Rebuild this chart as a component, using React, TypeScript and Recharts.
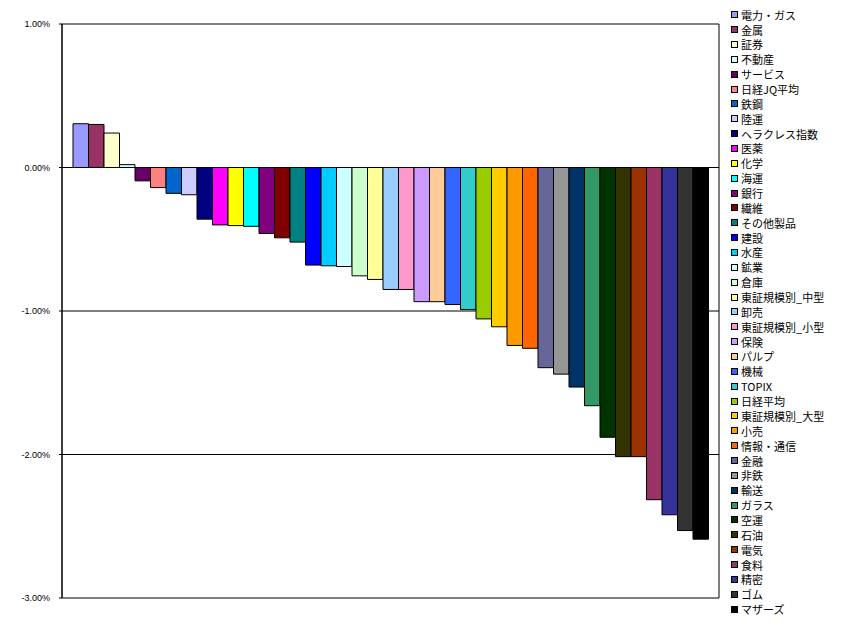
import React from 'react';
import { BarChart, Bar, XAxis, YAxis, CartesianGrid } from 'recharts';

const seriesNames = [
  '電力・ガス', '金属', '証券', '不動産', 'サービス', '日経JQ平均', '鉄鋼', '陸運', 'ヘラクレス指数', '医薬',
  '化学', '海運', '銀行', '繊維', 'その他製品', '建設', '水産', '鉱業', '倉庫', '東証規模別_中型',
  '卸売', '東証規模別_小型', '保険', 'パルプ', '機械', 'TOPIX', '日経平均', '東証規模別_大型', '小売', '情報・通信',
  '金融', '非鉄', '輸送', 'ガラス', '空運', '石油', '電気', '食料', '精密', 'ゴム', 'マザーズ',
];

const seriesValues = [
  0.305, 0.3, 0.24, 0.02, -0.093, -0.14, -0.18, -0.19, -0.36, -0.4,
  -0.405, -0.41, -0.46, -0.49, -0.52, -0.68, -0.685, -0.69, -0.755, -0.78,
  -0.85, -0.85, -0.935, -0.935, -0.955, -0.99, -1.055, -1.11, -1.24, -1.26,
  -1.395, -1.44, -1.53, -1.66, -1.88, -2.015, -2.015, -2.315, -2.42, -2.53, -2.59,
];

const seriesColors = [
  '#9999FF', '#993366', '#FFFFCC', '#CCFFFF', '#660066', '#FF8080', '#0066CC', '#CCCCFF', '#000080', '#FF00FF',
  '#FFFF00', '#00FFFF', '#800080', '#800000', '#008080', '#0000FF', '#00CCFF', '#CCFFFF', '#CCFFCC', '#FFFF99',
  '#99CCFF', '#FF99CC', '#CC99FF', '#FFCC99', '#3366FF', '#33CCCC', '#99CC00', '#FFCC00', '#FF9900', '#FF6600',
  '#666699', '#969696', '#003366', '#339966', '#003300', '#333300', '#993300', '#993366', '#333399', '#333333', '#000000',
];

const yTicks = [1, 0, -1, -2, -3];

const row: Record<string, number | string> = { cat: '' };
seriesNames.forEach((_, i) => {
  row['s' + i] = seriesValues[i];
});
const data = [row];

const fmt = (v: number) => `${v.toFixed(2)}%`;

export default function App() {
  return (
    <div style={{ position: 'absolute', left: 0, top: 0, width: 841, height: 631, background: '#fff' }}>
      <BarChart
        width={841}
        height={631}
        data={data}
        margin={{ top: 24, right: 122, bottom: 33, left: 0 }}
        barGap={0}
        barSize={15.5}
      >
        <CartesianGrid
          stroke="#000"
          strokeWidth={1}
          horizontalValues={yTicks}
          verticalCoordinatesGenerator={({ offset }: any) => [offset.left, offset.left + offset.width]}
        />
        <XAxis dataKey="cat" hide />
        <YAxis
          width={62}
          domain={[-3, 1]}
          ticks={yTicks}
          interval={0}
          tickFormatter={fmt}
          axisLine={{ stroke: '#000' }}
          tickLine={{ stroke: '#000' }}
          tickSize={3}
          tickMargin={9}
          tick={{ fill: '#000', fontSize: 9, fontFamily: 'Liberation Sans, Arial, sans-serif' }}
        />
        {seriesNames.map((n, i) => (
          <Bar
            key={n}
            dataKey={'s' + i}
            name={n}
            fill={seriesColors[i]}
            stroke="#000"
            strokeWidth={1}
            isAnimationActive={false}
          />
        ))}
      </BarChart>
      <div
        style={{
          position: 'absolute',
          left: 731,
          top: 7.3,
          fontFamily: '"Noto Sans CJK JP", sans-serif',
          fontSize: 11,
          color: '#000',
        }}
      >
        {seriesNames.map((n, i) => (
          <div key={n} style={{ height: 14.86, display: 'flex', alignItems: 'center', whiteSpace: 'nowrap' }}>
            <span
              style={{
                display: 'inline-block',
                width: 5,
                height: 5,
                border: '1px solid #000',
                background: seriesColors[i],
                marginRight: 3,
              }}
            />
            <span style={{ lineHeight: '14px' }}>{n}</span>
          </div>
        ))}
      </div>
    </div>
  );
}
